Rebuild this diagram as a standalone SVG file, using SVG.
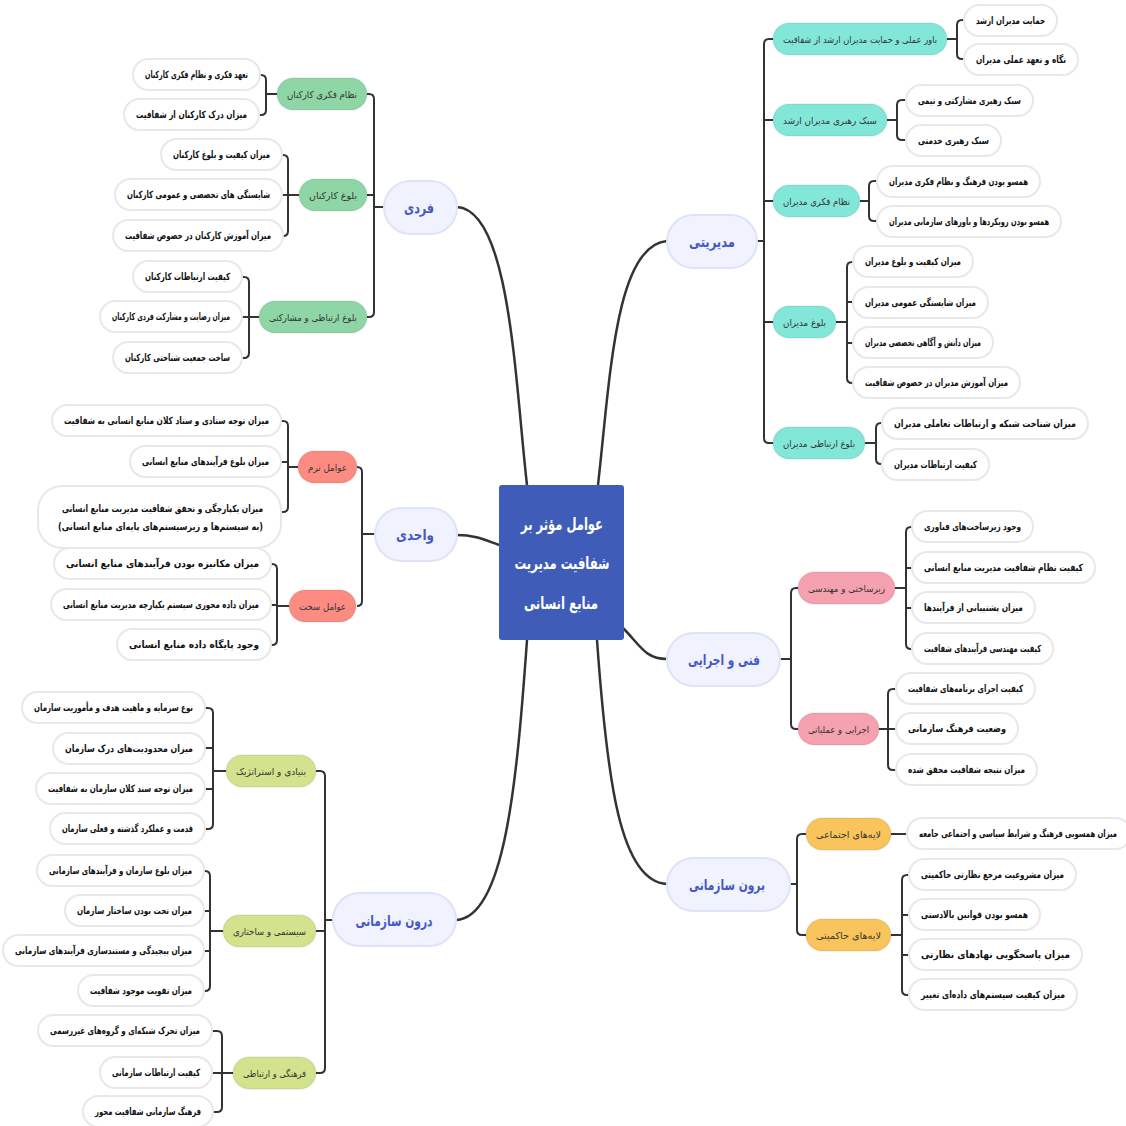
<svg xmlns="http://www.w3.org/2000/svg" width="1126" height="1126" viewBox="0 0 1126 1126">
<style>
text{font-family:"DejaVu Sans Condensed","DejaVu Sans",sans-serif;text-anchor:middle;direction:rtl}
.l1 rect{fill:#f0f2fe;stroke:#dfe3fa;stroke-width:2}
.l1 text{font-size:15px;font-weight:bold;fill:#4658c4}
.l2 text{font-size:9.5px;fill:#333}
.l2 rect{stroke:rgba(0,0,0,0.05);stroke-width:2}
.teal rect{fill:#82e7d9}
.green rect{fill:#8fd6a6}
.salmon rect{fill:#fc8c82}
.pink rect{fill:#f5a1af}
.orange rect{fill:#f9c45c}
.olive rect{fill:#d3e28d}
.lf rect{fill:#fff;stroke:#e8e8e8;stroke-width:2}
.lf text{font-size:10px;font-weight:bold;fill:#111}
.con path{fill:none;stroke:#333;stroke-width:2}
.con .main{stroke-width:2.5}
.ct{font-size:17px;font-weight:bold;fill:#fff}
</style>
<g id="connectors" class="con">
<path class="main" d="M598 485 C610 380 615 245 667 241"/>
<path class="main" d="M527 485 C515 380 510 210 457 207"/>
<path class="main" d="M623 628 C640 645 645 659 667 659"/>
<path class="main" d="M597 640 C607 780 620 882 667 884"/>
<path class="main" d="M527 640 C517 780 505 918 456 920"/>
<path class="main" d="M499 545 C485 540 475 535 457 535"/>
<path d="M757 241 H764 M773 39 H769 Q764 39 764 44 V438 Q764 443 769 443 H773 M764 120 H773 M764 201 H773 M764 322 H773"/>
<path d="M947 39 H957 M964 20 H962 Q957 20 957 25 V54 Q957 59 962 59 H964"/>
<path d="M887 120 H897 M906 100 H902 Q897 100 897 105 V135 Q897 140 902 140 H906"/>
<path d="M860 201 H869 M877 181 H874 Q869 181 869 186 V216 Q869 221 874 221 H877"/>
<path d="M836 322 H847 M853 262 H852 Q847 262 847 267 V378 Q847 383 852 383 H853 M847 302 H853 M847 343 H853"/>
<path d="M865 443 H876 M882 423 H881 Q876 423 876 428 V459 Q876 464 881 464 H882"/>
<path d="M780 659 H791 M798 588 H796 Q791 588 791 593 V724 Q791 729 796 729 H798"/>
<path d="M895 588 H906 M912 527 H911 Q906 527 906 532 V644 Q906 649 911 649 H912 M906 568 H912 M906 608 H912"/>
<path d="M879 729 H888 M896 689 H893 Q888 689 888 694 V765 Q888 770 893 770 H896 M888 729 H896"/>
<path d="M790 884 H797 M806 834 H802 Q797 834 797 839 V930 Q797 935 802 935 H806"/>
<path d="M891 834 H907"/>
<path d="M891 935 H902 M909 875 H907 Q902 875 902 880 V990 Q902 995 907 995 H909 M902 915 H909 M902 955 H909"/>
<path d="M384 207 H374 M367 94 H369 Q374 94 374 99 V312 Q374 317 369 317 H367 M374 195 H367"/>
<path d="M277 94 H266 M260 75 H261 Q266 75 266 80 V110 Q266 115 261 115 H260"/>
<path d="M299 195 H288 M282 155 H283 Q288 155 288 160 V231 Q288 236 283 236 H282 M288 195 H282"/>
<path d="M259 317 H249 M242 277 H244 Q249 277 249 282 V353 Q249 358 244 358 H242 M249 317 H242"/>
<path d="M375 534 H362 M357 467 Q362 467 362 472 V601 Q362 606 357 606"/>
<path d="M298 467 H288 M281 421 H283 Q288 421 288 426 V507 Q288 512 283 512 H281 M288 462 H281"/>
<path d="M289 606 H277 M271 564 H272 Q277 564 277 569 V640 Q277 645 272 645 H271 M277 605 H271"/>
<path d="M333 920 H325 M316 771 H320 Q325 771 325 776 V1068 Q325 1073 320 1073 H316 M325 931 H316"/>
<path d="M226 771 H213 M205 708 H208 Q213 708 213 713 V824 Q213 829 208 829 H205 M213 748 H205 M213 789 H205"/>
<path d="M223 931 H210 M204 871 H205 Q210 871 210 876 V986 Q210 991 205 991 H204 M210 911 H204 M210 951 H204"/>
<path d="M233 1073 H222 M212 1031 H217 Q222 1031 222 1036 V1107 Q222 1112 217 1112 H212 M222 1073 H212"/>
</g>
<g id="center">
<rect x="499" y="485" width="125" height="155" rx="3" fill="#3f5cb8"/>
<text class="ct" x="562" y="530" textLength="82" lengthAdjust="spacingAndGlyphs">عوامل مؤثر بر</text>
<text class="ct" x="562" y="569" textLength="95" lengthAdjust="spacingAndGlyphs">شفافیت مدیریت</text>
<text class="ct" x="561" y="609" textLength="74" lengthAdjust="spacingAndGlyphs">منابع انسانی</text>
</g>
<g id="n-modiriati" class="l1"><rect x="667" y="215" width="90" height="53" rx="26.5"/><text x="712" y="247" textLength="46" lengthAdjust="spacingAndGlyphs">مدیریتی</text></g>
<g id="n-fanni" class="l1"><rect x="667" y="633" width="113" height="53" rx="26.5"/><text x="724" y="665" textLength="72" lengthAdjust="spacingAndGlyphs">فنی و اجرایی</text></g>
<g id="n-boroon" class="l1"><rect x="667" y="858" width="123" height="53" rx="26.5"/><text x="727" y="890" textLength="76" lengthAdjust="spacingAndGlyphs">برون سازمانی</text></g>
<g id="n-fardi" class="l1"><rect x="384" y="181" width="73" height="53" rx="26.5"/><text x="419" y="213" textLength="30" lengthAdjust="spacingAndGlyphs">فردی</text></g>
<g id="n-vahedi" class="l1"><rect x="375" y="508" width="82" height="53" rx="26.5"/><text x="415" y="540" textLength="38" lengthAdjust="spacingAndGlyphs">واحدی</text></g>
<g id="n-darun" class="l1"><rect x="333" y="893" width="123" height="53" rx="26.5"/><text x="394" y="926" textLength="77" lengthAdjust="spacingAndGlyphs">درون سازمانی</text></g>

<g id="a1" class="l2 teal"><rect x="773" y="23" width="174" height="32" rx="16"/><text x="860" y="43" textLength="154" lengthAdjust="spacingAndGlyphs">باور عملی و حمایت مدیران ارشد از شفافیت</text></g>
<g id="a2" class="l2 teal"><rect x="773" y="104" width="114" height="32" rx="16"/><text x="830" y="124" textLength="94" lengthAdjust="spacingAndGlyphs">سبک رهبری مدیران ارشد</text></g>
<g id="a3" class="l2 teal"><rect x="773" y="185" width="87" height="32" rx="16"/><text x="816.5" y="205" textLength="67" lengthAdjust="spacingAndGlyphs">نظام فکری مدیران</text></g>
<g id="a4" class="l2 teal"><rect x="773" y="306" width="63" height="32" rx="16"/><text x="804.5" y="326" textLength="43" lengthAdjust="spacingAndGlyphs">بلوغ مدیران</text></g>
<g id="a5" class="l2 teal"><rect x="773" y="427" width="92" height="32" rx="16"/><text x="819" y="447" textLength="72" lengthAdjust="spacingAndGlyphs">بلوغ ارتباطی مدیران</text></g>
<g id="b1" class="l2 pink"><rect x="798" y="572" width="97" height="32" rx="16"/><text x="846.5" y="592" textLength="77" lengthAdjust="spacingAndGlyphs">زیرساختی و مهندسی</text></g>
<g id="b2" class="l2 pink"><rect x="798" y="713" width="81" height="32" rx="16"/><text x="838.5" y="733" textLength="61" lengthAdjust="spacingAndGlyphs">اجرایی و عملیاتی</text></g>
<g id="c1" class="l2 orange"><rect x="806" y="818" width="85" height="32" rx="16"/><text x="848.5" y="838" textLength="65" lengthAdjust="spacingAndGlyphs">لایه‌های اجتماعی</text></g>
<g id="c2" class="l2 orange"><rect x="806" y="919" width="85" height="32" rx="16"/><text x="848.5" y="939" textLength="65" lengthAdjust="spacingAndGlyphs">لایه‌های حاکمیتی</text></g>
<g id="d1" class="l2 green"><rect x="277" y="78" width="90" height="32" rx="16"/><text x="322" y="98" textLength="70" lengthAdjust="spacingAndGlyphs">نظام فکری کارکنان</text></g>
<g id="d2" class="l2 green"><rect x="299" y="179" width="68" height="32" rx="16"/><text x="333" y="199" textLength="48" lengthAdjust="spacingAndGlyphs">بلوغ کارکنان</text></g>
<g id="d3" class="l2 green"><rect x="259" y="301" width="108" height="32" rx="16"/><text x="313" y="321" textLength="88" lengthAdjust="spacingAndGlyphs">بلوغ ارتباطی و مشارکتی</text></g>
<g id="e1" class="l2 salmon"><rect x="298" y="451" width="59" height="32" rx="16"/><text x="327.5" y="471" textLength="39" lengthAdjust="spacingAndGlyphs">عوامل نرم</text></g>
<g id="e2" class="l2 salmon"><rect x="289" y="590" width="67" height="32" rx="16"/><text x="322.5" y="610" textLength="47" lengthAdjust="spacingAndGlyphs">عوامل سخت</text></g>
<g id="f1" class="l2 olive"><rect x="226" y="755" width="90" height="32" rx="16"/><text x="271" y="775" textLength="70" lengthAdjust="spacingAndGlyphs">بنیادی و استراتژیک</text></g>
<g id="f2" class="l2 olive"><rect x="223" y="915" width="93" height="32" rx="16"/><text x="269.5" y="935" textLength="73" lengthAdjust="spacingAndGlyphs">سیستمی و ساختاری</text></g>
<g id="f3" class="l2 olive"><rect x="233" y="1057" width="83" height="32" rx="16"/><text x="274.5" y="1077" textLength="63" lengthAdjust="spacingAndGlyphs">فرهنگی و ارتباطی</text></g>

<g id="a1-1" class="lf"><rect x="964" y="5" width="93" height="31" rx="15.5"/><text x="1010.5" y="24" textLength="69" lengthAdjust="spacingAndGlyphs">حمایت مدیران ارشد</text></g>
<g id="a1-2" class="lf"><rect x="964" y="44" width="114" height="31" rx="15.5"/><text x="1021" y="63" textLength="90" lengthAdjust="spacingAndGlyphs">نگاه و تعهد عملی مدیران</text></g>
<g id="a2-1" class="lf"><rect x="906" y="85" width="127" height="31" rx="15.5"/><text x="969.5" y="104" textLength="103" lengthAdjust="spacingAndGlyphs">سبک رهبری مشارکتی و تیمی</text></g>
<g id="a2-2" class="lf"><rect x="906" y="125" width="95" height="31" rx="15.5"/><text x="953.5" y="144" textLength="71" lengthAdjust="spacingAndGlyphs">سبک رهبری خدمتی</text></g>
<g id="a3-1" class="lf"><rect x="877" y="166" width="163" height="31" rx="15.5"/><text x="958.5" y="185" textLength="139" lengthAdjust="spacingAndGlyphs">همسو بودن فرهنگ و نظام فکری مدیران</text></g>
<g id="a3-2" class="lf"><rect x="877" y="206" width="184" height="31" rx="15.5"/><text x="969" y="225" textLength="160" lengthAdjust="spacingAndGlyphs">همسو بودن رویکردها و باورهای سازمانی مدیران</text></g>
<g id="a4-1" class="lf"><rect x="853" y="246" width="120" height="31" rx="15.5"/><text x="913" y="265" textLength="96" lengthAdjust="spacingAndGlyphs">میزان کیفیت و بلوغ مدیران</text></g>
<g id="a4-2" class="lf"><rect x="853" y="287" width="135" height="31" rx="15.5"/><text x="920.5" y="306" textLength="111" lengthAdjust="spacingAndGlyphs">میزان شایستگی عمومی مدیران</text></g>
<g id="a4-3" class="lf"><rect x="853" y="327" width="140" height="31" rx="15.5"/><text x="923" y="346" textLength="116" lengthAdjust="spacingAndGlyphs">میزان دانش و آگاهی تخصصی مدیران</text></g>
<g id="a4-4" class="lf"><rect x="853" y="367" width="167" height="31" rx="15.5"/><text x="936.5" y="386" textLength="143" lengthAdjust="spacingAndGlyphs">میزان آموزش مدیران در خصوص شفافیت</text></g>
<g id="a5-1" class="lf"><rect x="882" y="408" width="206" height="31" rx="15.5"/><text x="985" y="427" textLength="182" lengthAdjust="spacingAndGlyphs">میزان شناخت شبکه و ارتباطات تعاملی مدیران</text></g>
<g id="a5-2" class="lf"><rect x="882" y="449" width="107" height="31" rx="15.5"/><text x="935.5" y="468" textLength="83" lengthAdjust="spacingAndGlyphs">کیفیت ارتباطات مدیران</text></g>
<g id="b1-1" class="lf"><rect x="912" y="511" width="121" height="31" rx="15.5"/><text x="972.5" y="530" textLength="97" lengthAdjust="spacingAndGlyphs">وجود زیرساخت‌های فناوری</text></g>
<g id="b1-2" class="lf"><rect x="912" y="552" width="183" height="31" rx="15.5"/><text x="1003.5" y="571" textLength="159" lengthAdjust="spacingAndGlyphs">کیفیت نظام شفافیت مدیریت منابع انسانی</text></g>
<g id="b1-3" class="lf"><rect x="912" y="592" width="123" height="31" rx="15.5"/><text x="973.5" y="611" textLength="99" lengthAdjust="spacingAndGlyphs">میزان پشتیبانی از فرآیندها</text></g>
<g id="b1-4" class="lf"><rect x="912" y="633" width="141" height="31" rx="15.5"/><text x="982.5" y="652" textLength="117" lengthAdjust="spacingAndGlyphs">کیفیت مهندسی فرآیندهای شفافیت</text></g>
<g id="b2-1" class="lf"><rect x="896" y="673" width="139" height="31" rx="15.5"/><text x="965.5" y="692" textLength="115" lengthAdjust="spacingAndGlyphs">کیفیت اجرای برنامه‌های شفافیت</text></g>
<g id="b2-2" class="lf"><rect x="896" y="713" width="122" height="31" rx="15.5"/><text x="957" y="732" textLength="98" lengthAdjust="spacingAndGlyphs">وضعیت فرهنگ سازمانی</text></g>
<g id="b2-3" class="lf"><rect x="896" y="754" width="141" height="31" rx="15.5"/><text x="966.5" y="773" textLength="117" lengthAdjust="spacingAndGlyphs">میزان نتیجه شفافیت محقق شده</text></g>
<g id="c1-1" class="lf"><rect x="907" y="818" width="224" height="31" rx="15.5"/><text x="1018" y="837" font-size="9" textLength="198" lengthAdjust="spacingAndGlyphs">میزان همسویی فرهنگ و شرایط سیاسی و اجتماعی جامعه</text></g>
<g id="c2-1" class="lf"><rect x="909" y="859" width="167" height="31" rx="15.5"/><text x="992.5" y="878" textLength="143" lengthAdjust="spacingAndGlyphs">میزان مشروعیت مرجع نظارتی حاکمیتی</text></g>
<g id="c2-2" class="lf"><rect x="909" y="899" width="131" height="31" rx="15.5"/><text x="974.5" y="918" textLength="107" lengthAdjust="spacingAndGlyphs">همسو بودن قوانین بالادستی</text></g>
<g id="c2-3" class="lf"><rect x="909" y="939" width="173" height="31" rx="15.5"/><text x="995.5" y="958" textLength="149" lengthAdjust="spacingAndGlyphs">میزان پاسخگویی نهادهای نظارتی</text></g>
<g id="c2-4" class="lf"><rect x="909" y="979" width="168" height="31" rx="15.5"/><text x="993" y="998" textLength="144" lengthAdjust="spacingAndGlyphs">میزان کیفیت سیستم‌های داده‌ای تغییر</text></g>
<g id="d1-1" class="lf"><rect x="133" y="59" width="127" height="31" rx="15.5"/><text x="196.5" y="78" textLength="103" lengthAdjust="spacingAndGlyphs">تعهد فکری و نظام فکری کارکنان</text></g>
<g id="d1-2" class="lf"><rect x="124" y="99" width="135" height="31" rx="15.5"/><text x="191.5" y="118" textLength="111" lengthAdjust="spacingAndGlyphs">میزان درک کارکنان از شفافیت</text></g>
<g id="d2-1" class="lf"><rect x="161" y="139" width="121" height="31" rx="15.5"/><text x="221.5" y="158" textLength="97" lengthAdjust="spacingAndGlyphs">میزان کیفیت و بلوغ کارکنان</text></g>
<g id="d2-2" class="lf"><rect x="115" y="179" width="167" height="31" rx="15.5"/><text x="198.5" y="198" textLength="143" lengthAdjust="spacingAndGlyphs">شایستگی های تخصصی و عمومی کارکنان</text></g>
<g id="d2-3" class="lf"><rect x="113" y="220" width="170" height="31" rx="15.5"/><text x="198" y="239" textLength="146" lengthAdjust="spacingAndGlyphs">میزان آموزش کارکنان در خصوص شفافیت</text></g>
<g id="d3-1" class="lf"><rect x="133" y="261" width="109" height="31" rx="15.5"/><text x="187.5" y="280" textLength="85" lengthAdjust="spacingAndGlyphs">کیفیت ارتباطات کارکنان</text></g>
<g id="d3-2" class="lf"><rect x="100" y="301" width="142" height="31" rx="15.5"/><text x="171" y="320" textLength="118" lengthAdjust="spacingAndGlyphs">میزان رضایت و مشارکت فردی کارکنان</text></g>
<g id="d3-3" class="lf"><rect x="113" y="342" width="129" height="31" rx="15.5"/><text x="177.5" y="361" textLength="105" lengthAdjust="spacingAndGlyphs">ساخت جمعیت شناختی کارکنان</text></g>
<g id="e1-1" class="lf"><rect x="52" y="405" width="229" height="31" rx="15.5"/><text x="166.5" y="424" textLength="205" lengthAdjust="spacingAndGlyphs">میزان توجه ستادی و ستاد کلان منابع انسانی به شفافیت</text></g>
<g id="e1-2" class="lf"><rect x="130" y="446" width="151" height="31" rx="15.5"/><text x="205.5" y="465" textLength="127" lengthAdjust="spacingAndGlyphs">میزان بلوغ فرآیندهای منابع انسانی</text></g>
<g id="e1-3" class="lf"><rect x="38" y="486" width="243" height="62" rx="24"/><text x="162.5" y="512" textLength="201" lengthAdjust="spacingAndGlyphs">میزان یکپارچگی و تحقق شفافیت مدیریت منابع انسانی</text><text x="160.5" y="530" textLength="205" lengthAdjust="spacingAndGlyphs">(به سیستم‌ها و زیرسیستم‌های پایه‌ای منابع انسانی)</text></g>
<g id="e2-1" class="lf"><rect x="54" y="548" width="217" height="31" rx="15.5"/><text x="162.5" y="567" textLength="193" lengthAdjust="spacingAndGlyphs">میزان مکانیزه بودن فرآیندهای منابع انسانی</text></g>
<g id="e2-2" class="lf"><rect x="51" y="589" width="220" height="31" rx="15.5"/><text x="161" y="608" font-size="9.5" textLength="196" lengthAdjust="spacingAndGlyphs">میزان داده محوری سیستم یکپارچه مدیریت منابع انسانی</text></g>
<g id="e2-3" class="lf"><rect x="117" y="629" width="154" height="31" rx="15.5"/><text x="194" y="648" textLength="130" lengthAdjust="spacingAndGlyphs">وجود پایگاه داده منابع انسانی</text></g>
<g id="f1-1" class="lf"><rect x="22" y="692" width="183" height="31" rx="15.5"/><text x="113.5" y="711" textLength="159" lengthAdjust="spacingAndGlyphs">نوع سرمایه و ماهیت هدف و مأموریت سازمان</text></g>
<g id="f1-2" class="lf"><rect x="53" y="733" width="152" height="31" rx="15.5"/><text x="129" y="752" textLength="128" lengthAdjust="spacingAndGlyphs">میزان محدودیت‌های درک سازمان</text></g>
<g id="f1-3" class="lf"><rect x="36" y="773" width="169" height="31" rx="15.5"/><text x="120.5" y="792" textLength="145" lengthAdjust="spacingAndGlyphs">میزان توجه سند کلان سازمان به شفافیت</text></g>
<g id="f1-4" class="lf"><rect x="50" y="813" width="155" height="31" rx="15.5"/><text x="127.5" y="832" textLength="131" lengthAdjust="spacingAndGlyphs">قدمت و عملکرد گذشته و فعلی سازمان</text></g>
<g id="f2-1" class="lf"><rect x="37" y="855" width="167" height="31" rx="15.5"/><text x="120.5" y="874" textLength="143" lengthAdjust="spacingAndGlyphs">میزان بلوغ سازمان و فرآیندهای سازمانی</text></g>
<g id="f2-2" class="lf"><rect x="65" y="895" width="139" height="31" rx="15.5"/><text x="134.5" y="914" textLength="115" lengthAdjust="spacingAndGlyphs">میزان تخت بودن ساختار سازمان</text></g>
<g id="f2-3" class="lf"><rect x="3" y="935" width="201" height="31" rx="15.5"/><text x="103.5" y="954" textLength="177" lengthAdjust="spacingAndGlyphs">میزان پیچیدگی و مستندسازی فرآیندهای سازمانی</text></g>
<g id="f2-4" class="lf"><rect x="78" y="975" width="126" height="31" rx="15.5"/><text x="141" y="994" textLength="102" lengthAdjust="spacingAndGlyphs">میزان تقویت موجود شفافیت</text></g>
<g id="f3-1" class="lf"><rect x="38" y="1015" width="174" height="31" rx="15.5"/><text x="125" y="1034" textLength="150" lengthAdjust="spacingAndGlyphs">میزان تحرک شبکه‌ای و گروه‌های غیررسمی</text></g>
<g id="f3-2" class="lf"><rect x="100" y="1057" width="112" height="31" rx="15.5"/><text x="156" y="1076" textLength="88" lengthAdjust="spacingAndGlyphs">کیفیت ارتباطات سازمانی</text></g>
<g id="f3-3" class="lf"><rect x="83" y="1096" width="130" height="31" rx="15.5"/><text x="148" y="1115" textLength="106" lengthAdjust="spacingAndGlyphs">فرهنگ سازمانی شفافیت محور</text></g>
</svg>
